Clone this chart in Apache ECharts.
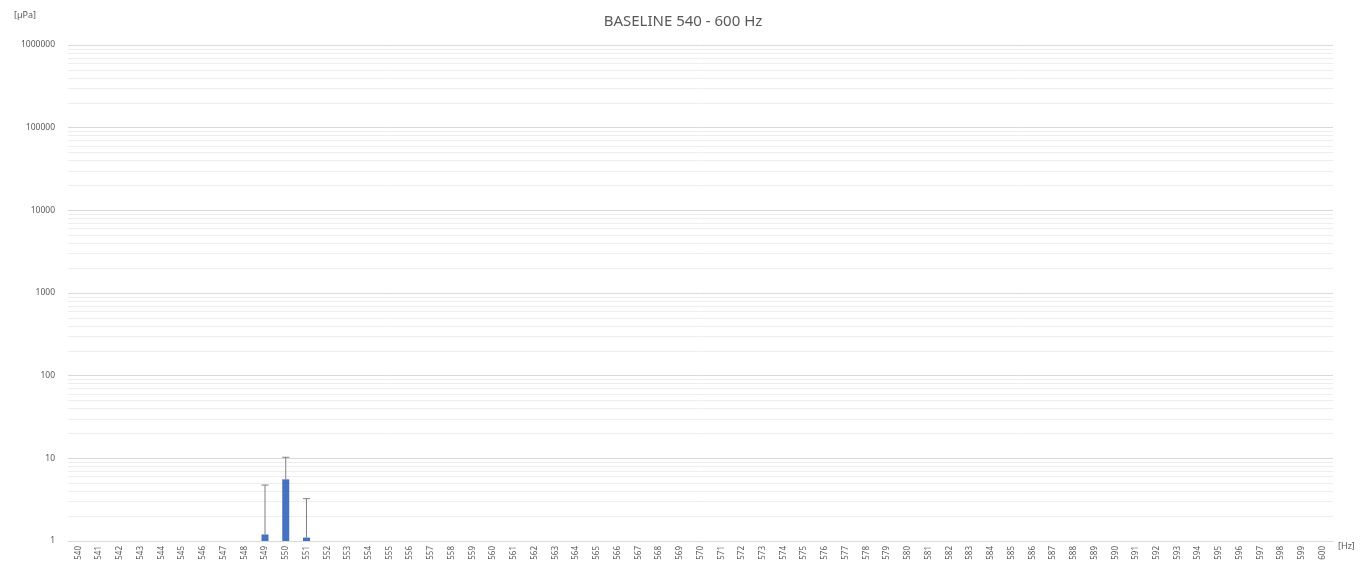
<!DOCTYPE html>
<html>
<head>
<meta charset="utf-8">
<script src="https://cdn.jsdelivr.net/npm/echarts@6/dist/echarts.min.js"></script>
<style>
html,body{margin:0;padding:0;background:#fff;}
#chart{width:1369px;height:570px;}
</style>
</head>
<body>
<div id="chart"></div>
<script>
const categories = ['540','541','542','543','544','545','546','547','548','549','550','551','552','553','554','555','556','557','558','559','560','561','562','563','564','565','566','567','568','569','570','571','572','573','574','575','576','577','578','579','580','581','582','583','584','585','586','587','588','589','590','591','592','593','594','595','596','597','598','599','600'];
// Non-empty bars (others are empty)
const barCats = ['549','550','551'];
const barValues = [1.2, 5.57, 1.1];
const errorPlus = [3.55, 4.73, 2.15];
const yTicks = [1, 10, 100, 1000, 10000, 100000, 1000000];
const minorGrid = [2,3,4,5,6,7,8,9,20,30,40,50,60,70,80,90,200,300,400,500,600,700,800,900,2000,3000,4000,5000,6000,7000,8000,9000,20000,30000,40000,50000,60000,70000,80000,90000,200000,300000,400000,500000,600000,700000,800000,900000];

const barData = categories.map(c => {
  const i = barCats.indexOf(c);
  return i >= 0 ? barValues[i] : '-';
});
const errData = barCats.map((c, i) => [c, barValues[i], barValues[i] + errorPlus[i]]);

const chart = echarts.init(document.getElementById('chart'));
const font = 'Noto Sans, Liberation Sans, sans-serif';
chart.setOption({
  animation: false,
  backgroundColor: '#ffffff',
  title: {
    text: 'BASELINE 540 - 600 Hz',
    left: 678, top: 9, textAlign: 'center',
    textStyle: {fontFamily: font, fontSize: 15, fontWeight: 'normal', color: '#595959'}
  },
  grid: {left: 68, right: 36, top: 45, bottom: 29, containLabel: false},
  xAxis: {
    type: 'category',
    data: categories,
    name: '[Hz]',
    nameLocation: 'end',
    nameGap: 5,
    nameTextStyle: {fontFamily: font, fontSize: 9, color: '#595959', verticalAlign: 'top', padding: [1,0,0,0]},
    axisLine: {lineStyle: {color: '#d9d9d9'}},
    axisTick: {show: false},
    axisLabel: {interval: 0, rotate: 90, fontFamily: font, fontSize: 8, color: '#595959', margin: 5},
    splitLine: {show: false}
  },
  yAxis: {
    type: 'log',
    logBase: 10,
    min: 1, max: 1000000,
    name: '[µPa]',
    nameLocation: 'end',
    nameGap: 25,
    nameTextStyle: {fontFamily: font, fontSize: 9, color: '#595959', align: 'right', padding: [0, 32, 0, 0]},
    axisLine: {show: false},
    axisTick: {show: false},
    axisLabel: {fontFamily: font, fontSize: 8.5, color: '#595959', margin: 13, formatter: v => String(Math.round(v))},
    splitLine: {lineStyle: {color: '#d9d9d9', width: 1}},
    minorTick: {show: false},
    minorSplitLine: {show: false}
  },
  series: [
    {
      type: 'line',
      data: [],
      z: 0,
      silent: true,
      markLine: {
        silent: true,
        z: 0,
        symbol: ['none', 'none'],
        label: {show: false},
        lineStyle: {color: '#eeeeee', type: 'solid', width: 1},
        emphasis: {disabled: true},
        data: minorGrid.map(v => ({yAxis: v}))
      }
    },
    {
      type: 'bar',
      data: barData,
      barWidth: 7,
      z: 3,
      itemStyle: {color: '#4472C4'},
      silent: true
    },
    {
      type: 'custom',
      data: errData,
      encode: {x: 0, y: [1, 2]},
      z: 5,
      renderItem: function (params, api) {
        const x = api.value(0);
        const p1 = api.coord([x, api.value(1)]);
        const p2 = api.coord([x, api.value(2)]);
        const style = {stroke: '#7f7f7f', lineWidth: 1};
        return {
          type: 'group',
          children: [
            {type: 'line', shape: {x1: p1[0], y1: p1[1], x2: p2[0], y2: p2[1]}, style: style},
            {type: 'line', shape: {x1: p2[0] - 3.5, y1: p2[1], x2: p2[0] + 3.5, y2: p2[1]}, style: style}
          ]
        };
      }
    }
  ]
});
</script>
</body>
</html>
